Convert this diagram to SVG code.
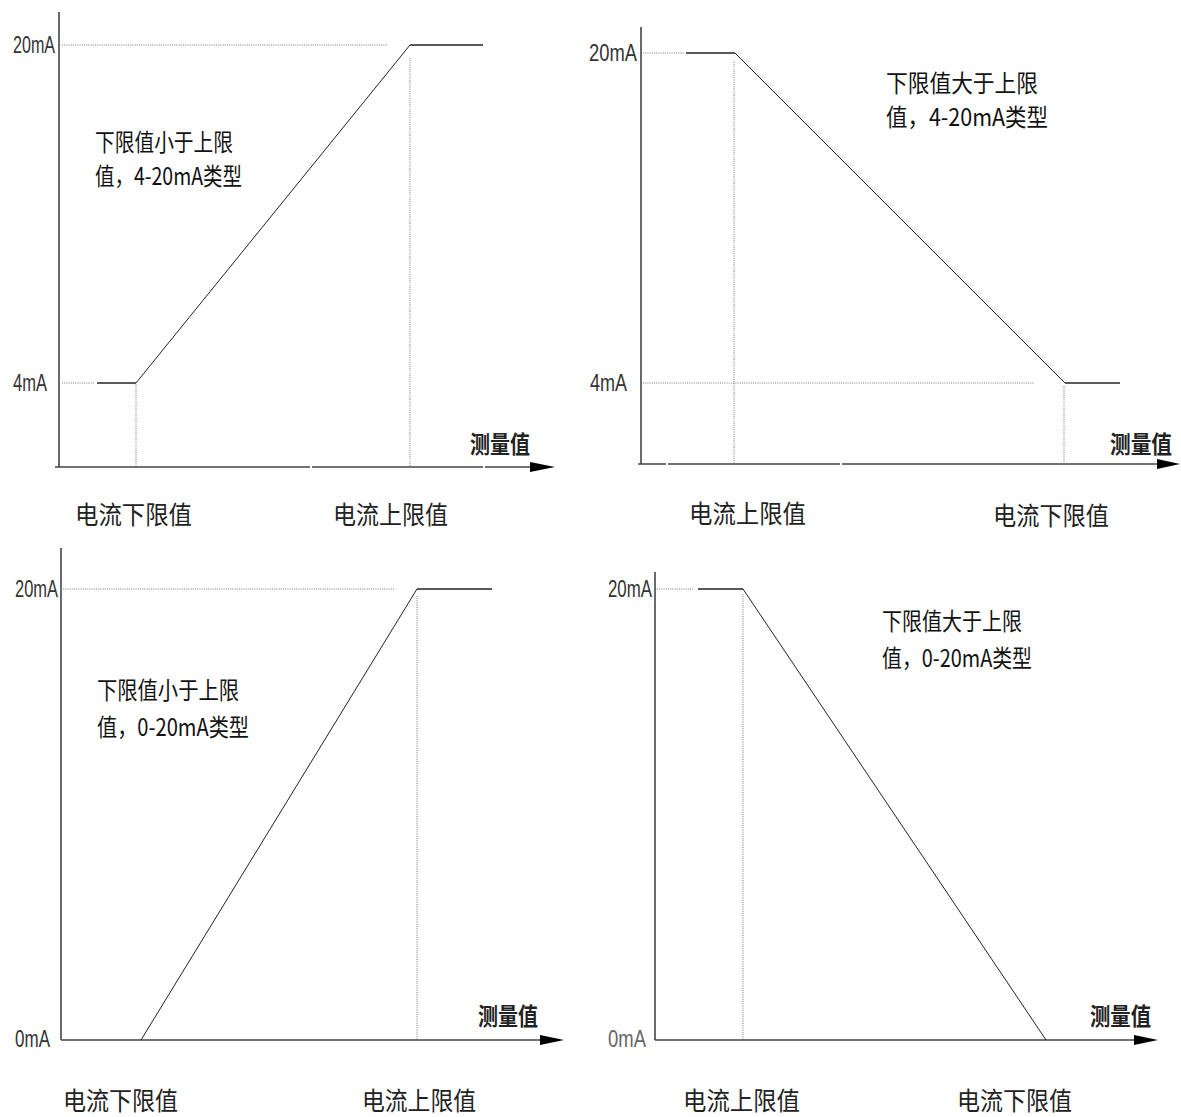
<svg xmlns="http://www.w3.org/2000/svg" width="1181" height="1117" viewBox="0 0 1181 1117">
<style>
.axis{stroke:#444;stroke-width:1.6;fill:none}
.curve{stroke:#222;stroke-width:1;fill:none}
.flat{stroke:#222;stroke-width:1.5;fill:none}
.dot{stroke:#777;stroke-width:1;stroke-dasharray:1 1.2;fill:none}
.arrow{fill:#000}
.cn{font-family:"Noto Sans CJK SC","Noto Sans",sans-serif;font-size:24px;fill:#111}
.lab{font-family:"Noto Sans CJK SC","Noto Sans",sans-serif;font-size:25px;fill:#222}
.meas{font-family:"Noto Sans CJK SC","Noto Sans",sans-serif;font-size:24px;font-weight:bold;fill:#222}
.ma{font-family:"Liberation Sans Narrow","Liberation Sans",sans-serif;font-size:24px;fill:#333}
.ma0{font-family:"Liberation Sans Narrow","Liberation Sans",sans-serif;font-size:24px;fill:#666}
</style>
<rect width="1181" height="1117" fill="#fff"/>

<g id="panel1">
  <g id="p1-axes">
    <line class="axis" x1="59" y1="12" x2="59" y2="467"/>
    <path class="axis" d="M55 467H310M312 467H483M485 467H532"/>
    <polygon class="arrow" points="530,462 555,467 530,472"/>
  </g>
  <g id="p1-guides">
    <line class="dot" x1="62" y1="45" x2="387" y2="45"/>
    <line class="dot" x1="62" y1="383" x2="95" y2="383"/>
    <line class="dot" x1="136" y1="384" x2="136" y2="467"/>
    <line class="dot" x1="410" y1="58" x2="410" y2="467"/>
  </g>
  <g id="p1-curve">
    <line class="flat" x1="97" y1="383" x2="136" y2="383"/>
    <line class="curve" x1="136" y1="383" x2="410" y2="45"/>
    <line class="flat" x1="410" y1="45" x2="483" y2="45"/>
  </g>
  <g id="p1-text">
    <text class="ma" x="13" y="53" textLength="42" lengthAdjust="spacingAndGlyphs">20mA</text>
    <text class="ma" x="13" y="391" font-size="22" textLength="34" lengthAdjust="spacingAndGlyphs">4mA</text>
    <text class="cn" x="95" y="151" textLength="138" lengthAdjust="spacingAndGlyphs">下限值小于上限</text>
    <text class="cn" x="95" y="185" textLength="147" lengthAdjust="spacingAndGlyphs">值，4-20mA类型</text>
    <text class="meas" x="470" y="453" textLength="60" lengthAdjust="spacingAndGlyphs">测量值</text>
    <text class="lab" x="75" y="524" textLength="117" lengthAdjust="spacingAndGlyphs">电流下限值</text>
    <text class="lab" x="333" y="524" textLength="115" lengthAdjust="spacingAndGlyphs">电流上限值</text>
  </g>
</g>

<g id="panel2">
  <g id="p2-axes">
    <line class="axis" x1="641" y1="27" x2="641" y2="464"/>
    <path class="axis" d="M638 464H666M668 464H840M842 464H1159"/>
    <polygon class="arrow" points="1157,459 1180,464 1157,469"/>
  </g>
  <g id="p2-guides">
    <line class="dot" x1="643" y1="53" x2="685" y2="53"/>
    <line class="dot" x1="643" y1="383" x2="1034" y2="383"/>
    <line class="dot" x1="734" y1="62" x2="734" y2="464"/>
    <line class="dot" x1="1064" y1="386" x2="1064" y2="464"/>
  </g>
  <g id="p2-curve">
    <line class="flat" x1="686" y1="53" x2="735" y2="53"/>
    <line class="curve" x1="735" y1="53" x2="1065" y2="383"/>
    <line class="flat" x1="1065" y1="383" x2="1120" y2="383"/>
  </g>
  <g id="p2-text">
    <text class="ma" x="589" y="61" textLength="48" lengthAdjust="spacingAndGlyphs">20mA</text>
    <text class="ma" x="590" y="391" font-size="22" textLength="37" lengthAdjust="spacingAndGlyphs">4mA</text>
    <text class="cn" x="886" y="92" textLength="152" lengthAdjust="spacingAndGlyphs">下限值大于上限</text>
    <text class="cn" x="886" y="126" textLength="162" lengthAdjust="spacingAndGlyphs">值，4-20mA类型</text>
    <text class="meas" x="1110" y="453" textLength="62" lengthAdjust="spacingAndGlyphs">测量值</text>
    <text class="lab" x="689" y="523" textLength="117" lengthAdjust="spacingAndGlyphs">电流上限值</text>
    <text class="lab" x="993" y="525" textLength="116" lengthAdjust="spacingAndGlyphs">电流下限值</text>
  </g>
</g>

<g id="panel3">
  <g id="p3-axes">
    <line class="axis" x1="61" y1="548" x2="61" y2="1040"/>
    <line class="axis" x1="61" y1="1040" x2="542" y2="1040"/>
    <polygon class="arrow" points="540,1035 564,1040 540,1045"/>
  </g>
  <g id="p3-guides">
    <line class="dot" x1="63" y1="589" x2="394" y2="589"/>
    <line class="dot" x1="417" y1="596" x2="417" y2="1040"/>
  </g>
  <g id="p3-curve">
    <line class="curve" x1="141" y1="1040" x2="417" y2="589"/>
    <line class="flat" x1="417" y1="589" x2="492" y2="589"/>
  </g>
  <g id="p3-text">
    <text class="ma" x="15" y="597" textLength="43" lengthAdjust="spacingAndGlyphs">20mA</text>
    <text class="ma" x="15" y="1047" font-size="22" textLength="35" lengthAdjust="spacingAndGlyphs">0mA</text>
    <text class="cn" x="97" y="699" textLength="142" lengthAdjust="spacingAndGlyphs">下限值小于上限</text>
    <text class="cn" x="97" y="736" textLength="152" lengthAdjust="spacingAndGlyphs">值，0-20mA类型</text>
    <text class="meas" x="478" y="1025" textLength="60" lengthAdjust="spacingAndGlyphs">测量值</text>
    <text class="lab" x="63" y="1110" textLength="115" lengthAdjust="spacingAndGlyphs">电流下限值</text>
    <text class="lab" x="362" y="1110" textLength="114" lengthAdjust="spacingAndGlyphs">电流上限值</text>
  </g>
</g>

<g id="panel4">
  <g id="p4-axes">
    <line class="axis" x1="655" y1="572" x2="655" y2="1040"/>
    <line class="axis" x1="655" y1="1040" x2="1136" y2="1040"/>
    <polygon class="arrow" points="1134,1035 1158,1040 1134,1045"/>
  </g>
  <g id="p4-guides">
    <line class="dot" x1="657" y1="589" x2="693" y2="589"/>
    <line class="dot" x1="743" y1="594" x2="743" y2="1040"/>
  </g>
  <g id="p4-curve">
    <line class="flat" x1="698" y1="589" x2="743" y2="589"/>
    <line class="curve" x1="743" y1="589" x2="1046" y2="1040"/>
  </g>
  <g id="p4-text">
    <text class="ma" x="608" y="597" textLength="44" lengthAdjust="spacingAndGlyphs">20mA</text>
    <text class="ma0" x="608" y="1047" font-size="22" textLength="38" lengthAdjust="spacingAndGlyphs">0mA</text>
    <text class="cn" x="882" y="630" textLength="140" lengthAdjust="spacingAndGlyphs">下限值大于上限</text>
    <text class="cn" x="882" y="667" textLength="150" lengthAdjust="spacingAndGlyphs">值，0-20mA类型</text>
    <text class="meas" x="1090" y="1025" textLength="61" lengthAdjust="spacingAndGlyphs">测量值</text>
    <text class="lab" x="683" y="1110" textLength="117" lengthAdjust="spacingAndGlyphs">电流上限值</text>
    <text class="lab" x="957" y="1110" textLength="115" lengthAdjust="spacingAndGlyphs">电流下限值</text>
  </g>
</g>
</svg>
